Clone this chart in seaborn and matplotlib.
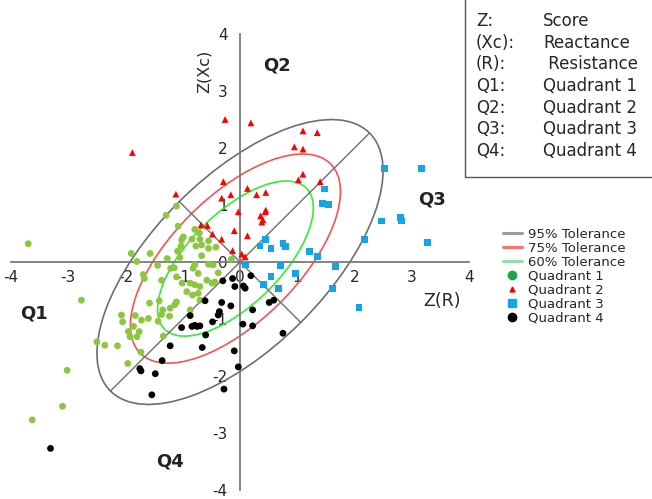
import matplotlib
matplotlib.use('Agg')
import matplotlib.pyplot as plt
from matplotlib.patches import Ellipse, Rectangle
from matplotlib.lines import Line2D
import numpy as np
import pandas as pd
import seaborn as sns

# ── data ──
q1_x = [-3.70, -2.77, -2.50, -2.36, -2.14, -3.02, -3.10, -3.63,
        -1.11, -1.29, -1.08, -0.79, -0.71, -0.99, -1.02, -0.84, -0.70, -1.03, -1.09, -0.77,
        -0.55, -0.55, -1.05, -0.67, -0.55, -1.27, -1.57, -1.90, -1.80, -1.44, -1.15, -0.79,
        -1.69, -1.67, -1.37, -1.21, -1.11, -1.01, -0.82, -0.73, -0.87, -0.79, -0.70, -0.58,
        -0.49, -0.93, -0.83, -0.73, -0.70, -1.11, -1.14, -0.87, -1.22, -1.35, -1.37, -1.23,
        -1.41, -1.58, -1.60, -1.43, -1.72, -1.83, -2.07, -2.05, -1.86, -1.95, -1.92, -1.80,
        -1.76, -1.34, -1.73, -1.96,
        -0.42, -0.15, -0.38, -0.44, -0.47, -0.67]
q1_y = [0.32, -0.67, -1.40, -1.46, -1.47, -1.90, -2.53, -2.77,
        0.98, 0.82, 0.63, 0.57, 0.51, 0.44, 0.39, 0.40, 0.40, 0.28, 0.19, 0.28,
        0.37, 0.24, 0.08, 0.11, -0.04, 0.06, 0.15, 0.15, 0.01, -0.06, -0.10, -0.05,
        -0.22, -0.29, -0.32, -0.11, -0.26, -0.37, -0.11, -0.20, -0.37, -0.40, -0.43, -0.32,
        -0.37, -0.52, -0.58, -0.55, -0.67, -0.70, -0.75, -0.84, -0.81, -0.84, -0.92, -0.95,
        -0.68, -0.72, -0.99, -1.04, -1.02, -0.94, -0.93, -1.05, -1.13, -1.22, -1.31, -1.31,
        -1.22, -1.30, -1.58, -1.78,
        0.26, 0.05, -0.19, -0.35, -0.05, 0.30]

q2_x = [-1.88, -1.12, -0.68, -0.57, -0.48, -0.26, 0.19, 1.10, 1.35, 0.95, 1.10, 1.10,
        1.02, 1.40, -0.29, 0.13, 0.45, 0.29, -0.16, -0.32, 0.45, 0.44, 0.36, 0.40, 0.38,
        -0.03, 0.13, -0.10, -0.32, -0.13, 0.03, 0.09]
q2_y = [1.92, 1.19, 0.65, 0.64, 0.49, 2.50, 2.44, 2.30, 2.27, 2.02, 1.98, 1.54,
        1.44, 1.41, 1.41, 1.29, 1.22, 1.18, 1.18, 1.12, 0.91, 0.88, 0.81, 0.74, 0.70,
        0.88, 0.46, 0.55, 0.40, 0.20, 0.14, 0.09]

q3_x = [1.47, 1.44, 1.55, 0.44, 0.35, 0.54, 0.75, 0.80, 1.21, 1.35, 0.09, 0.71, 1.67,
        0.54, 0.41, 0.67, 0.97, 1.62, 2.08, 2.53, 3.17, 2.47, 2.81, 2.82, 2.17, 3.28]
q3_y = [1.28, 1.03, 1.01, 0.39, 0.28, 0.24, 0.32, 0.27, 0.19, 0.09, -0.04, -0.06, -0.08,
        -0.26, -0.39, -0.47, -0.20, -0.47, -0.80, 1.64, 1.64, 0.72, 0.78, 0.72, 0.39, 0.34]

q4_x = [-3.31, -0.61, -0.87, -1.02, -0.84, -0.79, -0.75, -0.70, -0.60, -1.22, -0.66, -1.36,
        -1.75, -1.73, -1.48, -1.54, -0.30, -0.13, -0.09, 0.06, 0.09, 0.19, -0.32, -0.16,
        -0.36, -0.38, -0.48, 0.22, 0.05, 0.22, 0.51, 0.59, 0.75, -0.10, -0.03, -0.28]
q4_y = [-3.27, -0.68, -0.94, -1.15, -1.13, -1.11, -1.13, -1.12, -1.28, -1.47, -1.50, -1.73,
        -1.87, -1.91, -1.96, -2.33, -0.33, -0.29, -0.43, -0.42, -0.46, -0.24, -0.71, -0.77,
        -0.87, -0.93, -1.05, -0.84, -1.09, -1.12, -0.71, -0.67, -1.25, -1.56, -1.84, -2.23]

# tolerance ellipses: label, centre, semi-axes, colour
ell_labels = ['95% Tolerance', '75% Tolerance', '60% Tolerance']
ell_cx = [0.0, -0.08, -0.08]
ell_cy = [0.0, 0.06, 0.06]
ell_a = [3.2, 2.35, 1.75]
ell_b = [1.5, 1.10, 0.80]
ell_col = ['#6e6e6e', '#ff5050', '#33ee33']
leg_ell_col = ['#9a9a9a', '#ff7070', '#90e0a8']

quad_names = ['Quadrant 1', 'Quadrant 2', 'Quadrant 3', 'Quadrant 4']
quad_col = ['#8dc63f', '#ff0000', '#15a4e6', '#000000']
quad_mark = ['o', '^', 's', 'o']

df = pd.concat([
    pd.DataFrame({'x': q1_x, 'y': q1_y, 'q': 'Quadrant 1'}),
    pd.DataFrame({'x': q2_x, 'y': q2_y, 'q': 'Quadrant 2'}),
    pd.DataFrame({'x': q3_x, 'y': q3_y, 'q': 'Quadrant 3'}),
    pd.DataFrame({'x': q4_x, 'y': q4_y, 'q': 'Quadrant 4'}),
], ignore_index=True)

sns.set_style('white')
plt.rcParams['font.family'] = ['DejaVu Sans']
plt.rcParams['axes.unicode_minus'] = False

fig = plt.figure(figsize=(6.52, 4.99), dpi=100)
ax = fig.add_axes([11/652, 1 - 490/499, 458/652, 456/499])

# ── ellipses + axes of the outer one ──
for lab, cx, cy, a, b, c in zip(ell_labels, ell_cx, ell_cy, ell_a, ell_b, ell_col):
    ax.add_patch(Ellipse((cx, cy), 2*a, 2*b, angle=45, fill=False, ec=c, lw=1.2, zorder=2))
d = np.sqrt(0.5)
ax.plot([ell_cx[0] - ell_a[0]*d, ell_cx[0] + ell_a[0]*d],
        [ell_cy[0] - ell_a[0]*d, ell_cy[0] + ell_a[0]*d], color=ell_col[0], lw=1, zorder=2)
ax.plot([ell_cx[0] - ell_b[0]*d, ell_cx[0] + ell_b[0]*d],
        [ell_cy[0] + ell_b[0]*d, ell_cy[0] - ell_b[0]*d], color=ell_col[0], lw=1, zorder=2)

# ── points ──
sns.scatterplot(data=df, x='x', y='y', hue='q', style='q', hue_order=quad_names,
                style_order=quad_names, palette=quad_col, markers=quad_mark,
                s=24, linewidth=0, legend=False, ax=ax, zorder=3)

# ── axes through the origin ──
ax.set_xlim(-4, 4)
ax.set_ylim(-4, 4)
for side in ['top', 'right']:
    ax.spines[side].set_visible(False)
for side in ['left', 'bottom']:
    ax.spines[side].set_position('zero')
    ax.spines[side].set_color('#7a7a7a')
    ax.spines[side].set_linewidth(1.3)
ax.set_xticks(range(-4, 5))
ax.set_yticks(range(-4, 5))
ax.set_xticks(np.arange(-3.5, 4, 1), minor=True)
ax.set_yticks(np.arange(-3.5, 4, 1), minor=True)
ax.tick_params(axis='x', which='both', direction='in', length=5, width=1, color='#7a7a7a',
               labelsize=11, pad=6)
ax.tick_params(axis='y', which='both', direction='out', length=5, width=1, color='#7a7a7a',
               labelsize=11, pad=4)
ax.set_xlabel('')
ax.set_ylabel('')
ax.set_facecolor('none')
ax.text(-0.62, 3.35, 'Z(Xc)', rotation=90, ha='center', va='center', fontsize=11.5)
ax.text(3.52, -0.68, 'Z(R)', ha='center', va='center', fontsize=12.5)

# quadrant labels
qfont = dict(fontsize=13, fontweight='bold', ha='center', va='center', color='#222222')
ax.text(0.65, 3.45, 'Q2', **qfont)
ax.text(3.35, 1.1, 'Q3', **qfont)
ax.text(-3.6, -0.9, 'Q1', **qfont)
ax.text(-1.22, -3.5, 'Q4', **qfont)

# ── legend ──
handles = [Line2D([], [], color=c, lw=2.2) for c in leg_ell_col]
handles += [Line2D([], [], ls='none', marker='o', color='#1aa84a', ms=6),
            Line2D([], [], ls='none', marker='^', color='#ff0000', ms=3.5),
            Line2D([], [], ls='none', marker='s', color='#15a4e6', ms=6),
            Line2D([], [], ls='none', marker='o', color='#000000', ms=6)]
fig.legend(handles, ell_labels + quad_names, loc='upper left',
           bbox_to_anchor=(496/652, 1 - 221/499), frameon=False, fontsize=9.5,
           handlelength=1.5, handletextpad=0.4, labelspacing=0.08, borderpad=0)

# ── key box ──
fig.patches.append(Rectangle((465/652, 1 - 177/499), 0.4, 0.4, transform=fig.transFigure,
                             fill=False, ec='#555555', lw=1))
keys = ['Z:', '(Xc):', '(R):', 'Q1:', 'Q2:', 'Q3:', 'Q4:']
vals = ['Score', 'Reactance', ' Resistance', 'Quadrant 1', 'Quadrant 2', 'Quadrant 3', 'Quadrant 4']
for i, (k, v) in enumerate(zip(keys, vals)):
    yy = 1 - (21 + i*21.7)/499
    fig.text(476/652, yy, k, fontsize=12, va='center', ha='left')
    fig.text(543/652, yy, v, fontsize=12, va='center', ha='left')

plt.savefig('out.png', dpi=100)
plt.close()
